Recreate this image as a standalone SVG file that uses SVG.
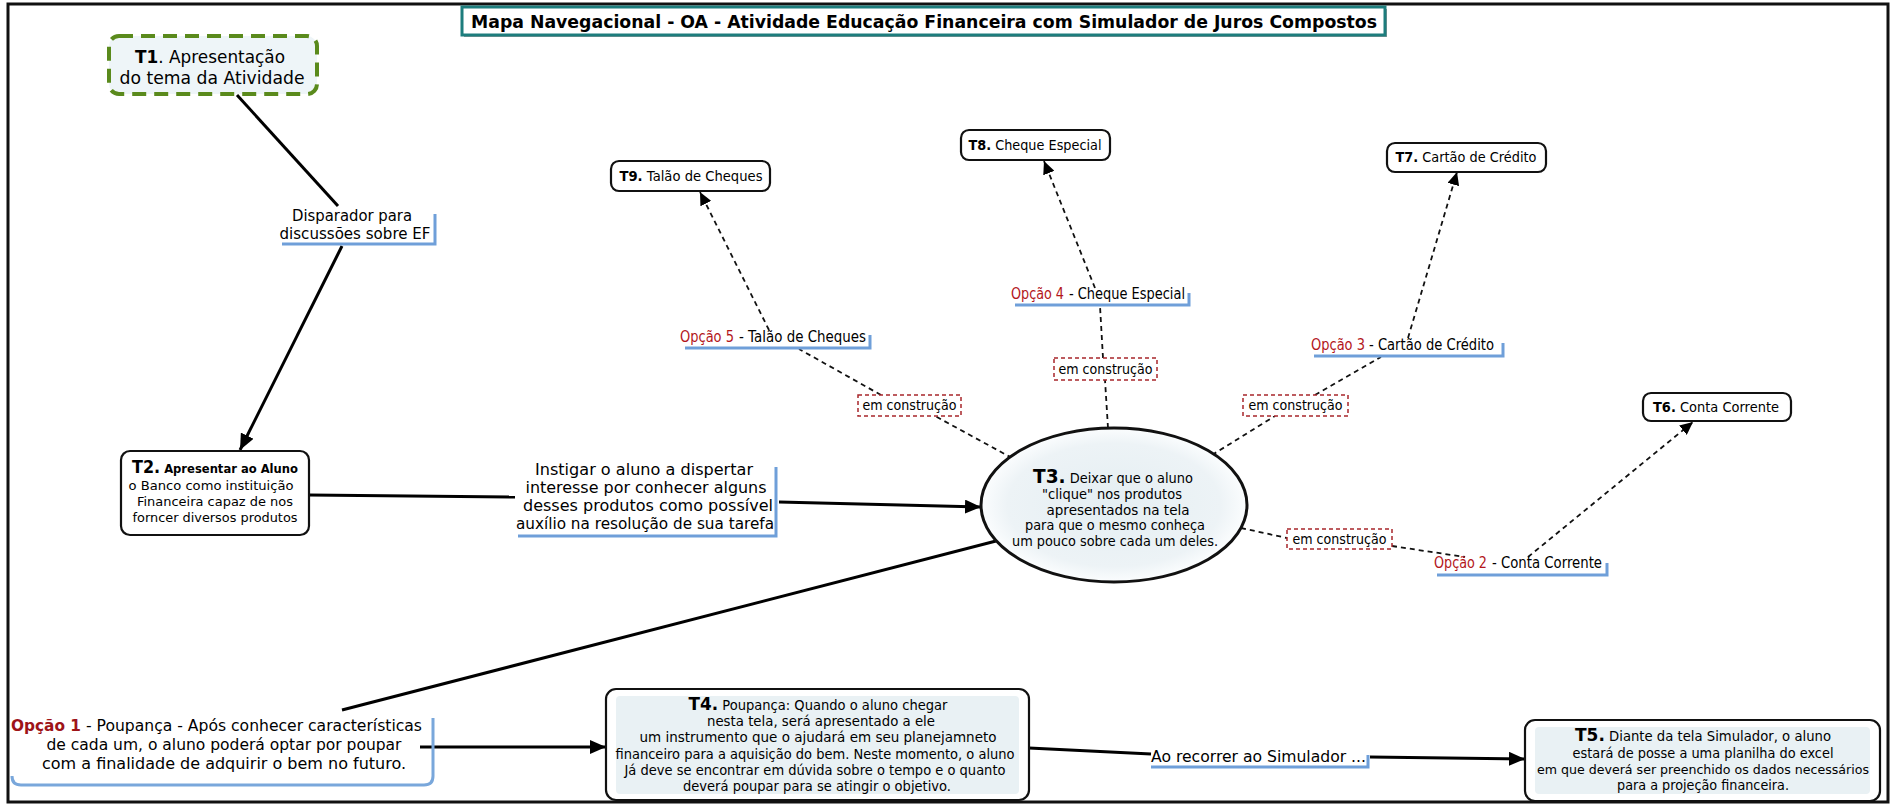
<svg xmlns="http://www.w3.org/2000/svg" width="1894" height="804" viewBox="0 0 1894 804">
<style>
text{font-family:"DejaVu Sans","Liberation Sans",sans-serif;fill:#000}
.b{font-weight:bold}
.red{fill:#b3161b}
.node{fill:#fff;stroke:#111;stroke-width:2.2}
.solid{fill:none;stroke:#000;stroke-width:3}
.dash{fill:none;stroke:#111;stroke-width:1.8;stroke-dasharray:5 4}
.ul{fill:none;stroke:#6f9fd9;stroke-width:3}
.ec{fill:#fff;stroke:#a8262b;stroke-width:1.5;stroke-dasharray:4 3}
.tint{fill:#e9f1f4}
</style>
<defs>
<marker id="ah" markerUnits="userSpaceOnUse" markerWidth="18" markerHeight="14" refX="16" refY="7" orient="auto"><path d="M0,0 L16,7 L0,14 z" fill="#000"/></marker>
<marker id="ahs" markerUnits="userSpaceOnUse" markerWidth="14" markerHeight="12" refX="13" refY="6" orient="auto"><path d="M0,0 L13,6 L0,12 z" fill="#000"/></marker>
<radialGradient id="eg" cx="50%" cy="50%" r="50%"><stop offset="0" stop-color="#e4eef2"/><stop offset="0.8" stop-color="#edf3f6"/><stop offset="1" stop-color="#fbfdfe"/></radialGradient>
</defs>
<rect x="0" y="0" width="1894" height="804" fill="#fff"/>
<rect x="8" y="4" width="1880" height="798" fill="#fff" stroke="#111" stroke-width="3"/>

<g id="title">
<rect x="464" y="9" width="923" height="28" fill="#9a9a9a"/>
<rect x="462" y="7" width="923" height="28" fill="#fff" stroke="#1d7d7d" stroke-width="3"/>
<text x="924" y="28" class="b" font-size="17" text-anchor="middle" textLength="906" lengthAdjust="spacingAndGlyphs">Mapa Navegacional - OA - Atividade Educação Financeira com Simulador de Juros Compostos</text>
</g>

<g id="connectors">
<line class="solid" x1="237" y1="95" x2="338" y2="206"/>
<line class="solid" x1="342" y1="246" x2="240" y2="450" marker-end="url(#ah)"/>
<line class="solid" x1="309" y1="495" x2="515" y2="497"/>
<line class="solid" x1="779" y1="502" x2="981" y2="507" marker-end="url(#ah)"/>
<line class="solid" x1="342" y1="710" x2="996" y2="541"/>
<line class="solid" x1="420" y1="747" x2="606" y2="747" marker-end="url(#ah)"/>
<line class="solid" x1="1029" y1="748" x2="1151" y2="754"/>
<line class="solid" x1="1370" y1="757" x2="1525" y2="759" marker-end="url(#ah)"/>
<line class="dash" x1="1012" y1="458" x2="935" y2="416"/>
<line class="dash" x1="881" y1="395" x2="799" y2="349"/>
<line class="dash" x1="769" y1="330" x2="700" y2="192" marker-end="url(#ahs)"/>
<line class="dash" x1="1108" y1="428" x2="1105" y2="380"/>
<line class="dash" x1="1103" y1="358" x2="1100" y2="306"/>
<line class="dash" x1="1095" y1="288" x2="1044" y2="161" marker-end="url(#ahs)"/>
<line class="dash" x1="1212" y1="455" x2="1275" y2="416"/>
<line class="dash" x1="1315" y1="395" x2="1381" y2="357"/>
<line class="dash" x1="1408" y1="338" x2="1457" y2="172" marker-end="url(#ahs)"/>
<line class="dash" x1="1241" y1="528" x2="1287" y2="538"/>
<line class="dash" x1="1392" y1="546" x2="1465" y2="557"/>
<line class="dash" x1="1528" y1="557" x2="1693" y2="422" marker-end="url(#ahs)"/>
</g>

<g id="T1">
<rect x="109" y="36" width="208" height="58" rx="10" fill="#eef5f8" stroke="#5a8a1c" stroke-width="4" stroke-dasharray="14 8"/>
<text x="210" y="63" font-size="18" text-anchor="middle" textLength="150" lengthAdjust="spacingAndGlyphs"><tspan class="b">T1</tspan>. Apresentação</text>
<text x="212" y="84" font-size="18" text-anchor="middle" textLength="185" lengthAdjust="spacingAndGlyphs">do tema da Atividade</text>
</g>

<g id="label-disparador">
<text x="352" y="221" font-size="15" text-anchor="middle" textLength="120" lengthAdjust="spacingAndGlyphs">Disparador para</text>
<text x="355" y="239" font-size="15" text-anchor="middle" textLength="151" lengthAdjust="spacingAndGlyphs">discussões sobre EF</text>
<path class="ul" d="M282,244 H435 V214"/>
</g>

<g id="T2">
<rect class="node" x="121" y="451" width="188" height="84" rx="9" stroke-width="2.6"/>
<text x="215" y="473" class="b" font-size="13" text-anchor="middle" textLength="166" lengthAdjust="spacingAndGlyphs"><tspan font-size="18">T2.</tspan> Apresentar ao Aluno</text>
<text x="211" y="490" font-size="13" text-anchor="middle" textLength="165" lengthAdjust="spacingAndGlyphs">o Banco como instituição</text>
<text x="215" y="506" font-size="13" text-anchor="middle" textLength="156" lengthAdjust="spacingAndGlyphs">Financeira capaz de nos</text>
<text x="215" y="522" font-size="13" text-anchor="middle" textLength="165" lengthAdjust="spacingAndGlyphs">forncer diversos produtos</text>
</g>

<g id="label-instigar">
<text x="644" y="475" font-size="16" text-anchor="middle" textLength="218" lengthAdjust="spacingAndGlyphs">Instigar o aluno a dispertar</text>
<text x="646" y="493" font-size="16" text-anchor="middle" textLength="241" lengthAdjust="spacingAndGlyphs">interesse por conhecer alguns</text>
<text x="648" y="511" font-size="16" text-anchor="middle" textLength="250" lengthAdjust="spacingAndGlyphs">desses produtos como possível</text>
<text x="645" y="529" font-size="16" text-anchor="middle" textLength="258" lengthAdjust="spacingAndGlyphs">auxílio na resolução de sua tarefa</text>
<path class="ul" d="M518,536 H776 V467"/>
</g>

<g id="T3">
<ellipse cx="1114" cy="505" rx="133" ry="77" fill="url(#eg)" stroke="#111" stroke-width="3"/>
<text x="1113" y="483" font-size="14" text-anchor="middle" textLength="160" lengthAdjust="spacingAndGlyphs"><tspan class="b" font-size="20">T3.</tspan> Deixar que o aluno</text>
<text x="1112" y="499" font-size="14" text-anchor="middle" textLength="140" lengthAdjust="spacingAndGlyphs">"clique" nos produtos</text>
<text x="1118" y="515" font-size="14" text-anchor="middle" textLength="143" lengthAdjust="spacingAndGlyphs">apresentados na tela</text>
<text x="1115" y="530" font-size="14" text-anchor="middle" textLength="180" lengthAdjust="spacingAndGlyphs">para que o mesmo conheça</text>
<text x="1115" y="546" font-size="14" text-anchor="middle" textLength="206" lengthAdjust="spacingAndGlyphs">um pouco sobre cada um deles.</text>
</g>

<g id="ec-5">
<rect class="ec" x="858" y="395" width="103" height="21"/>
<text x="909.5" y="410" font-size="14" text-anchor="middle" textLength="94" lengthAdjust="spacingAndGlyphs">em construção</text>
</g>
<g id="ec-4">
<rect class="ec" x="1054" y="358" width="103" height="22"/>
<text x="1105.5" y="374" font-size="14" text-anchor="middle" textLength="94" lengthAdjust="spacingAndGlyphs">em construção</text>
</g>
<g id="ec-3">
<rect class="ec" x="1243" y="395" width="105" height="21"/>
<text x="1295.5" y="410" font-size="14" text-anchor="middle" textLength="94" lengthAdjust="spacingAndGlyphs">em construção</text>
</g>
<g id="ec-2">
<rect class="ec" x="1287" y="529" width="105" height="20"/>
<text x="1339.5" y="544" font-size="14" text-anchor="middle" textLength="94" lengthAdjust="spacingAndGlyphs">em construção</text>
</g>

<g id="opcao5">
<text x="680" y="342" font-size="15" class="red" textLength="54" lengthAdjust="spacingAndGlyphs">Opção 5</text>
<text x="739" y="342" font-size="15" textLength="127" lengthAdjust="spacingAndGlyphs">- Talão de Cheques</text>
<path class="ul" d="M685,348 H870 V335"/>
</g>
<g id="opcao4">
<text x="1011" y="299" font-size="15" class="red" textLength="53" lengthAdjust="spacingAndGlyphs">Opção 4</text>
<text x="1069" y="299" font-size="15" textLength="116" lengthAdjust="spacingAndGlyphs">- Cheque Especial</text>
<path class="ul" d="M1015,305 H1189 V293"/>
</g>
<g id="opcao3">
<text x="1311" y="350" font-size="15" class="red" textLength="54" lengthAdjust="spacingAndGlyphs">Opção 3</text>
<text x="1369" y="350" font-size="15" textLength="125" lengthAdjust="spacingAndGlyphs">- Cartão de Crédito</text>
<path class="ul" d="M1314,356 H1503 V343"/>
</g>
<g id="opcao2">
<text x="1434" y="568" font-size="15" class="red" textLength="53" lengthAdjust="spacingAndGlyphs">Opção 2</text>
<text x="1492" y="568" font-size="15" textLength="110" lengthAdjust="spacingAndGlyphs">- Conta Corrente</text>
<path class="ul" d="M1437,575 H1607 V563"/>
</g>

<g id="T9">
<rect class="node" x="611" y="161" width="159" height="30" rx="8"/>
<text x="691" y="181" font-size="14" text-anchor="middle" textLength="143" lengthAdjust="spacingAndGlyphs"><tspan class="b">T9.</tspan> Talão de Cheques</text>
</g>
<g id="T8">
<rect class="node" x="961" y="130" width="149" height="30" rx="8"/>
<text x="1035" y="150" font-size="14" text-anchor="middle" textLength="133" lengthAdjust="spacingAndGlyphs"><tspan class="b">T8.</tspan> Cheque Especial</text>
</g>
<g id="T7">
<rect class="node" x="1387" y="143" width="159" height="29" rx="8"/>
<text x="1466" y="162" font-size="14" text-anchor="middle" textLength="141" lengthAdjust="spacingAndGlyphs"><tspan class="b">T7.</tspan> Cartão de Crédito</text>
</g>
<g id="T6">
<rect class="node" x="1643" y="393" width="148" height="28" rx="8"/>
<text x="1716" y="412" font-size="14" text-anchor="middle" textLength="126" lengthAdjust="spacingAndGlyphs"><tspan class="b">T6.</tspan> Conta Corrente</text>
</g>

<g id="opcao1">
<path d="M12,776 Q12,785 21,785 L424,785 Q433,785 433,776 L433,718" fill="none" stroke="#79a7db" stroke-width="3"/>
<text x="11" y="731" font-size="16" class="b" style="fill:#9e1418" textLength="70" lengthAdjust="spacingAndGlyphs">Opção 1</text>
<text x="86" y="731" font-size="16" textLength="336" lengthAdjust="spacingAndGlyphs">- Poupança - Após conhecer características</text>
<text x="224" y="750" font-size="16" text-anchor="middle" textLength="355" lengthAdjust="spacingAndGlyphs">de cada um, o aluno poderá optar por poupar</text>
<text x="224" y="769" font-size="16" text-anchor="middle" textLength="364" lengthAdjust="spacingAndGlyphs">com a finalidade de adquirir o bem no futuro.</text>
</g>

<g id="T4">
<rect class="node" x="606" y="689" width="423" height="111" rx="10" stroke-width="2.6"/>
<rect class="tint" x="616" y="696" width="403" height="98" rx="4"/>
<text x="818" y="710" font-size="14" text-anchor="middle" textLength="259" lengthAdjust="spacingAndGlyphs"><tspan class="b" font-size="18">T4.</tspan> Poupança: Quando o aluno chegar</text>
<text x="821" y="726" font-size="14" text-anchor="middle" textLength="228" lengthAdjust="spacingAndGlyphs">nesta tela, será apresentado a ele</text>
<text x="818" y="742" font-size="14" text-anchor="middle" textLength="357" lengthAdjust="spacingAndGlyphs">um instrumento que o ajudará em seu planejamneto</text>
<text x="815" y="759" font-size="14" text-anchor="middle" textLength="399" lengthAdjust="spacingAndGlyphs">financeiro para a aquisição do bem. Neste momento, o aluno</text>
<text x="815" y="775" font-size="14" text-anchor="middle" textLength="381" lengthAdjust="spacingAndGlyphs">Já deve se encontrar em dúvida sobre o tempo e o quanto</text>
<text x="817" y="791" font-size="14" text-anchor="middle" textLength="268" lengthAdjust="spacingAndGlyphs">deverá poupar para se atingir o objetivo.</text>
</g>

<g id="label-simulador">
<text x="1151" y="762" font-size="16" textLength="215" lengthAdjust="spacingAndGlyphs">Ao recorrer ao Simulador ...</text>
<path class="ul" d="M1151,767 H1368 V755"/>
</g>

<g id="T5">
<rect class="node" x="1525" y="720" width="355" height="81" rx="10" stroke-width="2.6"/>
<rect class="tint" x="1535" y="727" width="335" height="67" rx="4"/>
<text x="1703" y="741" font-size="14" text-anchor="middle" textLength="256" lengthAdjust="spacingAndGlyphs"><tspan class="b" font-size="18">T5.</tspan> Diante da tela Simulador, o aluno</text>
<text x="1703" y="758" font-size="14" text-anchor="middle" textLength="261" lengthAdjust="spacingAndGlyphs">estará de posse a uma planilha do excel</text>
<text x="1703" y="774" font-size="12.5" text-anchor="middle" textLength="332" lengthAdjust="spacingAndGlyphs">em que deverá ser preenchido os dados necessários</text>
<text x="1703" y="790" font-size="14" text-anchor="middle" textLength="172" lengthAdjust="spacingAndGlyphs">para a projeção financeira.</text>
</g>
</svg>
